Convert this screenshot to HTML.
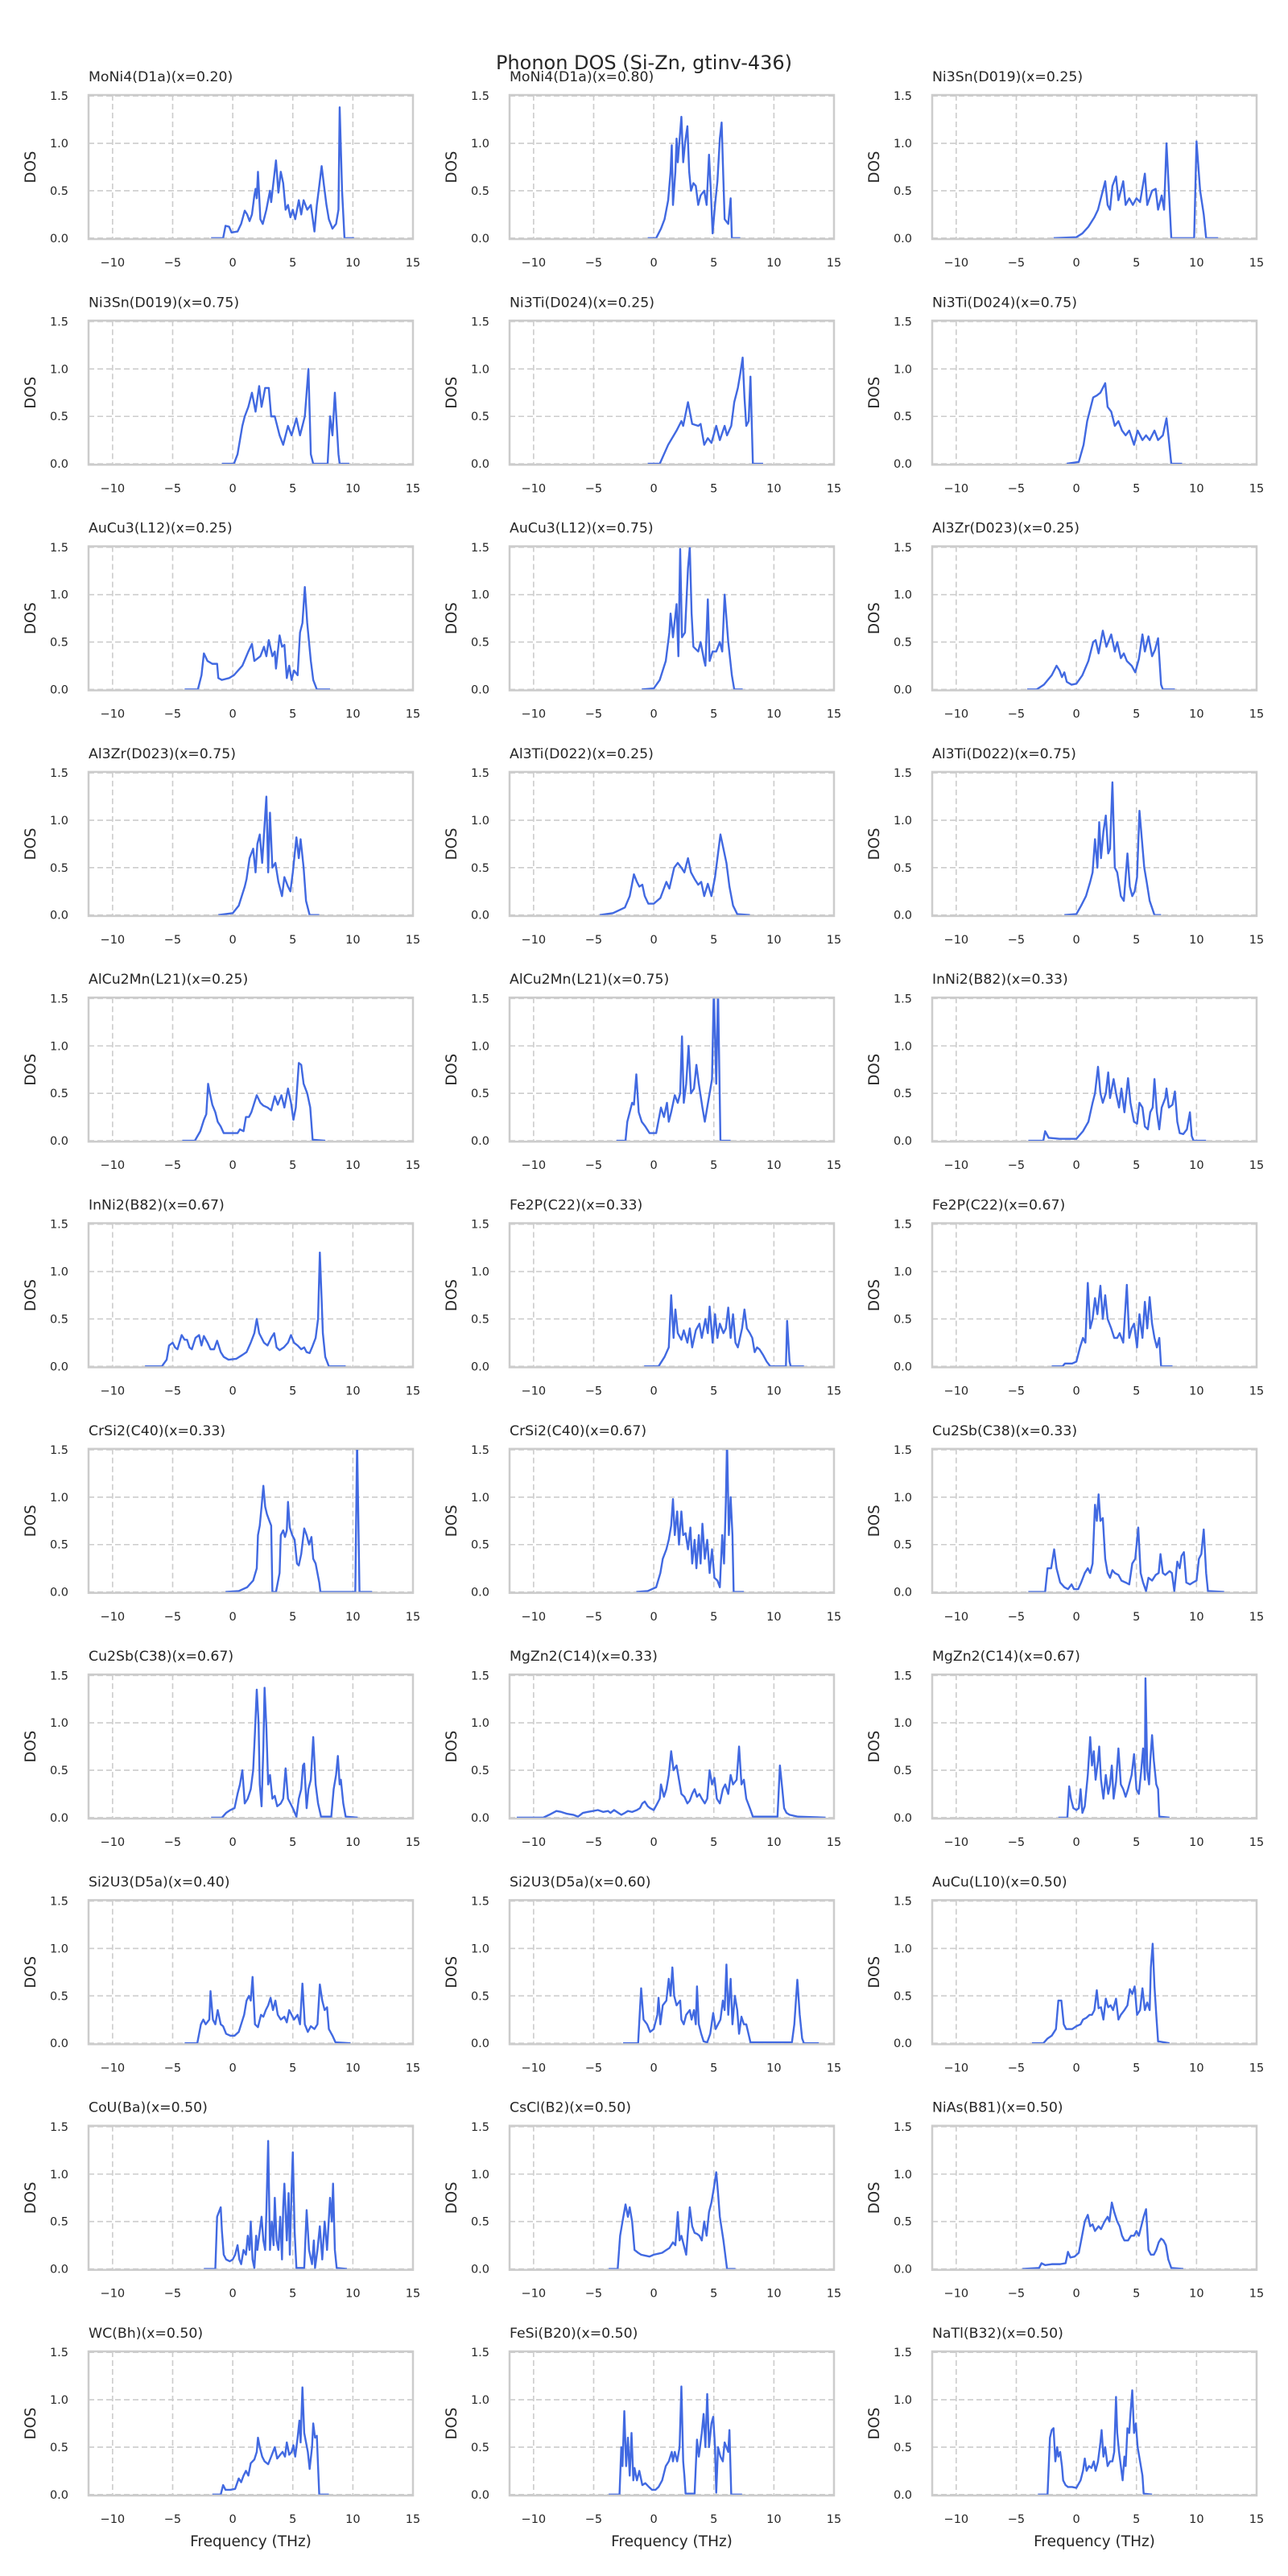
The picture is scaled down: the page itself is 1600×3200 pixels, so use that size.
<!DOCTYPE html>
<html>
<head>
<meta charset="utf-8">
<style>
  html,body{margin:0;padding:0;background:#fff;}
  svg{display:block;}
  text{font-family:"DejaVu Sans","Liberation Sans",sans-serif;fill:#262626;}
</style>
</head>
<body>
<svg id="fig" xmlns="http://www.w3.org/2000/svg" width="1600" height="3200" viewBox="0 0 1600 3200">
  <rect x="0" y="0" width="1600" height="3200" fill="#ffffff"/>
  <text x="800" y="86" text-anchor="middle" font-size="24">Phonon DOS (Si-Zn, gtinv-436)</text>
</svg>
<script>
const titles = ["MoNi4(D1a)(x=0.20)","MoNi4(D1a)(x=0.80)","Ni3Sn(D019)(x=0.25)","Ni3Sn(D019)(x=0.75)","Ni3Ti(D024)(x=0.25)","Ni3Ti(D024)(x=0.75)","AuCu3(L12)(x=0.25)","AuCu3(L12)(x=0.75)","Al3Zr(D023)(x=0.25)","Al3Zr(D023)(x=0.75)","Al3Ti(D022)(x=0.25)","Al3Ti(D022)(x=0.75)","AlCu2Mn(L21)(x=0.25)","AlCu2Mn(L21)(x=0.75)","InNi2(B82)(x=0.33)","InNi2(B82)(x=0.67)","Fe2P(C22)(x=0.33)","Fe2P(C22)(x=0.67)","CrSi2(C40)(x=0.33)","CrSi2(C40)(x=0.67)","Cu2Sb(C38)(x=0.33)","Cu2Sb(C38)(x=0.67)","MgZn2(C14)(x=0.33)","MgZn2(C14)(x=0.67)","Si2U3(D5a)(x=0.40)","Si2U3(D5a)(x=0.60)","AuCu(L10)(x=0.50)","CoU(Ba)(x=0.50)","CsCl(B2)(x=0.50)","NiAs(B81)(x=0.50)","WC(Bh)(x=0.50)","FeSi(B20)(x=0.50)","NaTl(B32)(x=0.50)"];
const xTicks = [-10,-5,0,5,10,15];
const yTicks = [0.0,0.5,1.0,1.5];
const xTickLabels = ["\u221210","\u22125","0","5","10","15"];
const yTickLabels = ["0.0","0.5","1.0","1.5"];
const xLim = [-12,15];
const yLim = [-0.01,1.51];

const s0=[[-1.8,0],[-0.8,0],[-0.6,0.13],[-0.3,0.12],[-0.1,0.06],[0.4,0.07],[0.7,0.15],[1.0,0.29],[1.2,0.25],[1.4,0.18],[1.6,0.25],[1.8,0.45],[1.9,0.52],[2.0,0.42],[2.1,0.7],[2.3,0.2],[2.5,0.15],[2.8,0.3],[3.1,0.5],[3.2,0.38],[3.4,0.6],[3.6,0.82],[3.8,0.48],[4.0,0.7],[4.2,0.58],[4.4,0.3],[4.6,0.35],[4.8,0.22],[5.0,0.3],[5.2,0.2],[5.5,0.4],[5.7,0.25],[5.9,0.4],[6.2,0.3],[6.5,0.35],[6.8,0.07],[7.0,0.35],[7.2,0.55],[7.4,0.76],[7.6,0.55],[7.8,0.35],[8.0,0.2],[8.3,0.1],[8.6,0.15],[8.8,0.3],[8.9,1.38],[9.1,0.5],[9.3,0],[10.1,0]];
const s1=[[-0.5,0],[0.2,0],[0.6,0.1],[0.9,0.2],[1.2,0.4],[1.4,0.7],[1.5,0.98],[1.6,0.35],[1.8,0.7],[1.9,1.05],[2.0,0.8],[2.3,1.28],[2.45,0.8],[2.6,1.0],[2.8,1.18],[2.95,0.7],[3.1,0.5],[3.3,0.58],[3.5,0.55],[3.7,0.35],[3.9,0.45],[4.2,0.5],[4.4,0.35],[4.6,0.88],[4.75,0.5],[4.9,0.05],[5.1,0.35],[5.3,0.6],[5.5,1.05],[5.65,1.22],[5.8,0.6],[5.9,0.2],[6.2,0.15],[6.4,0.42],[6.5,0],[7.2,0]];
const s2=[[-1.9,0],[0,0.01],[0.5,0.05],[1.0,0.12],[1.5,0.22],[1.8,0.3],[2.0,0.4],[2.4,0.6],[2.6,0.35],[2.8,0.3],[3.0,0.55],[3.3,0.65],[3.5,0.4],[3.9,0.6],[4.1,0.35],[4.4,0.42],[4.7,0.35],[5.0,0.42],[5.3,0.38],[5.7,0.68],[5.9,0.35],[6.3,0.5],[6.6,0.52],[6.8,0.3],[7.1,0.45],[7.3,0.3],[7.5,1.0],[7.9,0],[9.8,0],[10.0,1.02],[10.3,0.5],[10.6,0.25],[10.8,0],[11.8,0]];
const s3=[[-0.9,0],[0.1,0],[0.4,0.1],[0.8,0.4],[1.0,0.5],[1.3,0.6],[1.6,0.75],[1.9,0.55],[2.2,0.82],[2.4,0.6],[2.7,0.8],[3.0,0.8],[3.2,0.5],[3.5,0.5],[3.9,0.3],[4.2,0.2],[4.6,0.4],[4.9,0.3],[5.3,0.48],[5.6,0.3],[6.0,0.5],[6.3,1.0],[6.5,0.1],[6.7,0],[7.9,0],[8.1,0.5],[8.3,0.3],[8.5,0.75],[8.8,0.1],[8.9,0],[9.7,0]];
const s4=[[-0.5,0],[0.5,0],[1.2,0.2],[1.9,0.35],[2.3,0.45],[2.45,0.4],[2.85,0.65],[3.2,0.42],[3.7,0.4],[3.9,0.42],[4.2,0.2],[4.5,0.27],[4.8,0.22],[5.2,0.4],[5.5,0.25],[5.9,0.4],[6.1,0.3],[6.45,0.4],[6.7,0.65],[7.0,0.8],[7.2,0.95],[7.4,1.12],[7.55,0.7],[7.7,0.4],[7.9,0.45],[8.05,0.92],[8.25,0],[9.1,0]];
const s5=[[-0.8,0],[0.2,0.02],[0.6,0.2],[0.9,0.45],[1.2,0.6],[1.4,0.7],[1.7,0.72],[2.0,0.75],[2.4,0.85],[2.6,0.6],[2.9,0.55],[3.2,0.4],[3.5,0.45],[3.8,0.35],[4.1,0.3],[4.4,0.35],[4.8,0.2],[5.1,0.35],[5.5,0.25],[5.8,0.3],[6.1,0.25],[6.5,0.35],[6.8,0.25],[7.2,0.3],[7.5,0.48],[7.7,0.25],[7.9,0],[8.8,0]];
const s6=[[-4.0,0],[-2.9,0],[-2.6,0.15],[-2.4,0.38],[-2.1,0.3],[-1.7,0.27],[-1.3,0.27],[-1.2,0.12],[-0.9,0.1],[-0.3,0.12],[0.1,0.15],[0.8,0.25],[1.3,0.4],[1.6,0.48],[1.8,0.3],[2.3,0.35],[2.6,0.45],[2.8,0.35],[3.0,0.52],[3.3,0.35],[3.5,0.4],[3.6,0.22],[3.9,0.57],[4.1,0.45],[4.3,0.47],[4.5,0.12],[4.7,0.25],[4.9,0.1],[5.1,0.2],[5.4,0.15],[5.6,0.6],[5.8,0.7],[6.0,1.08],[6.2,0.7],[6.5,0.3],[6.7,0.1],[7.0,0],[8.1,0]];
const s7=[[-1.0,0],[0,0.01],[0.5,0.1],[1.0,0.3],[1.3,0.6],[1.4,0.8],[1.6,0.55],[1.9,0.9],[2.05,0.35],[2.2,1.48],[2.35,0.55],[2.6,0.6],[2.85,1.28],[3.0,1.5],[3.15,0.8],[3.3,0.45],[3.7,0.4],[3.9,0.5],[4.2,0.3],[4.3,0.25],[4.5,0.95],[4.65,0.3],[4.9,0.4],[5.2,0.4],[5.5,0.5],[5.7,0.4],[5.9,1.0],[6.2,0.5],[6.5,0.15],[6.7,0],[7.4,0]];
const s8=[[-4.1,0],[-3.3,0],[-2.7,0.05],[-2.05,0.15],[-1.65,0.25],[-1.4,0.2],[-1.2,0.13],[-1.0,0.18],[-0.8,0.08],[-0.4,0.05],[0,0.06],[0.5,0.15],[1.0,0.3],[1.4,0.5],[1.6,0.52],[1.85,0.38],[2.2,0.62],[2.5,0.45],[2.9,0.58],[3.2,0.4],[3.4,0.5],[3.7,0.33],[3.95,0.38],[4.2,0.3],[4.6,0.25],[4.9,0.18],[5.2,0.32],[5.5,0.58],[5.7,0.4],[6.0,0.56],[6.3,0.35],[6.55,0.42],[6.8,0.54],[7.05,0.05],[7.2,0],[8.2,0]];
const s9=[[-1.2,0],[0,0.02],[0.5,0.1],[1.0,0.3],[1.15,0.38],[1.4,0.6],[1.7,0.7],[1.9,0.45],[2.05,0.75],[2.25,0.85],[2.45,0.55],[2.65,0.95],[2.8,1.25],[2.95,0.45],[3.1,1.08],[3.3,0.5],[3.55,0.55],[3.8,0.35],[4.1,0.2],[4.3,0.4],[4.6,0.3],[4.8,0.25],[5.0,0.45],[5.3,0.82],[5.5,0.6],[5.65,0.8],[5.9,0.5],[6.1,0.15],[6.4,0],[7.2,0]];
const s10=[[-4.5,0],[-3.4,0.02],[-2.4,0.08],[-2.0,0.2],[-1.65,0.43],[-1.4,0.35],[-1.2,0.3],[-0.95,0.32],[-0.75,0.2],[-0.45,0.12],[0,0.12],[0.55,0.18],[1.05,0.35],[1.3,0.28],[1.7,0.5],[2.0,0.55],[2.3,0.5],[2.55,0.45],[2.85,0.6],[3.1,0.45],[3.4,0.38],[3.7,0.32],[3.95,0.35],[4.2,0.2],[4.5,0.33],[4.8,0.2],[5.1,0.4],[5.3,0.6],[5.55,0.85],[5.8,0.7],[6.05,0.55],[6.3,0.3],[6.6,0.1],[6.95,0.01],[8.0,0]];
const s11=[[-1.0,0],[0,0.01],[0.4,0.1],[0.8,0.2],[1.15,0.35],[1.35,0.45],[1.55,0.8],[1.75,0.5],[1.9,0.98],[2.05,0.6],[2.25,0.88],[2.45,1.05],[2.65,0.65],[2.8,0.7],[3.0,1.4],[3.2,0.5],[3.4,0.45],[3.7,0.2],[3.95,0.15],[4.25,0.65],[4.45,0.3],[4.65,0.2],[4.85,0.25],[5.05,0.4],[5.25,1.1],[5.45,0.8],[5.65,0.5],[5.85,0.35],[6.1,0.15],[6.5,0],[7.05,0]];
const s12=[[-4.2,0],[-3.15,0],[-2.7,0.1],[-2.4,0.22],[-2.2,0.28],[-2.05,0.6],[-1.9,0.5],[-1.7,0.38],[-1.45,0.3],[-1.25,0.2],[-1.0,0.15],[-0.75,0.08],[-0.2,0.08],[0.4,0.08],[0.6,0.12],[0.9,0.1],[1.1,0.25],[1.35,0.25],[1.55,0.3],[1.75,0.38],[2.0,0.48],[2.3,0.4],[2.55,0.37],[2.9,0.35],[3.2,0.32],[3.5,0.47],[3.75,0.38],[4.05,0.48],[4.3,0.35],[4.6,0.55],[4.85,0.4],[5.05,0.22],[5.25,0.35],[5.5,0.82],[5.7,0.8],[5.9,0.6],[6.2,0.5],[6.45,0.35],[6.65,0.01],[7.7,0]];
const s13=[[-3.1,0],[-2.35,0],[-2.2,0.2],[-2.0,0.3],[-1.8,0.4],[-1.65,0.38],[-1.45,0.7],[-1.25,0.3],[-1.0,0.2],[-0.7,0.15],[-0.35,0.08],[0.2,0.08],[0.6,0.35],[0.85,0.25],[1.1,0.4],[1.25,0.2],[1.45,0.3],[1.75,0.48],[2.0,0.4],[2.2,0.5],[2.35,1.1],[2.5,0.4],[2.7,0.6],[2.9,1.0],[3.1,0.5],[3.35,0.55],[3.55,0.8],[3.75,0.6],[4.05,0.35],[4.25,0.2],[4.45,0.35],[4.65,0.5],[4.85,0.65],[5.0,1.6],[5.2,0.6],[5.35,1.6],[5.55,0],[6.4,0]];
const s14=[[-4.0,0],[-2.75,0],[-2.6,0.1],[-2.3,0.03],[-1.4,0.02],[0,0.02],[0.55,0.1],[1.0,0.2],[1.35,0.4],[1.55,0.5],[1.8,0.78],[2.0,0.5],[2.2,0.4],[2.45,0.5],[2.65,0.72],[2.8,0.45],[3.1,0.65],[3.3,0.5],[3.55,0.35],[3.75,0.55],[4.0,0.3],[4.3,0.66],[4.5,0.4],[4.8,0.2],[5.05,0.18],[5.25,0.4],[5.5,0.35],[5.7,0.15],[5.95,0.12],[6.15,0.3],[6.35,0.35],[6.5,0.65],[6.7,0.3],[6.9,0.12],[7.1,0.35],[7.4,0.45],[7.5,0.55],[7.7,0.35],[8.0,0.38],[8.2,0.52],[8.4,0.2],[8.6,0.08],[8.9,0.07],[9.2,0.12],[9.45,0.3],[9.6,0.05],[9.75,0],[10.8,0]];
const s15=[[-7.3,0],[-5.9,0],[-5.5,0.07],[-5.3,0.22],[-5.0,0.25],[-4.8,0.2],[-4.6,0.18],[-4.25,0.33],[-4.0,0.28],[-3.8,0.28],[-3.6,0.2],[-3.4,0.18],[-3.1,0.3],[-2.8,0.33],[-2.6,0.22],[-2.4,0.32],[-2.1,0.25],[-1.85,0.18],[-1.55,0.18],[-1.3,0.27],[-1.0,0.15],[-0.75,0.1],[-0.35,0.07],[0.3,0.08],[0.8,0.12],[1.15,0.15],[1.5,0.25],[1.8,0.35],[2.0,0.5],[2.2,0.35],[2.4,0.3],[2.6,0.25],[2.9,0.22],[3.2,0.3],[3.45,0.35],[3.65,0.2],[3.9,0.17],[4.25,0.2],[4.6,0.25],[4.85,0.33],[5.1,0.25],[5.4,0.22],[5.7,0.18],[5.95,0.2],[6.15,0.15],[6.4,0.14],[6.6,0.2],[6.9,0.3],[7.1,0.5],[7.25,1.2],[7.4,0.7],[7.5,0.35],[7.7,0.1],[8.0,0],[9.4,0]];
const s16=[[-0.8,0],[0.4,0],[0.9,0.1],[1.25,0.2],[1.45,0.75],[1.65,0.3],[1.8,0.6],[2.0,0.35],[2.3,0.28],[2.5,0.38],[2.8,0.25],[3.0,0.4],[3.2,0.2],[3.5,0.38],[3.8,0.45],[4.0,0.3],[4.3,0.5],[4.5,0.35],[4.65,0.63],[4.9,0.25],[5.1,0.55],[5.3,0.3],[5.5,0.45],[5.8,0.35],[6.0,0.4],[6.2,0.62],[6.4,0.3],[6.6,0.55],[6.8,0.25],[7.0,0.2],[7.35,0.4],[7.55,0.6],[7.75,0.4],[8.0,0.35],[8.2,0.3],[8.4,0.15],[8.6,0.2],[8.8,0.18],[9.1,0.12],[9.4,0.05],[9.7,0],[11.0,0],[11.1,0.48],[11.3,0.05],[11.4,0],[12.5,0]];
const s17=[[-2.05,0],[-1.15,0],[-0.95,0.03],[-0.35,0.03],[0,0.05],[0.3,0.2],[0.55,0.3],[0.75,0.25],[0.95,0.88],[1.15,0.4],[1.35,0.5],[1.55,0.72],[1.75,0.55],[2.0,0.85],[2.2,0.5],[2.4,0.75],[2.6,0.5],[2.9,0.4],[3.15,0.3],[3.4,0.3],[3.6,0.35],[3.9,0.25],[4.2,0.86],[4.4,0.3],[4.6,0.4],[4.8,0.45],[5.05,0.2],[5.25,0.55],[5.5,0.3],[5.7,0.68],[5.9,0.4],[6.1,0.73],[6.3,0.45],[6.5,0.3],[6.7,0.2],[6.9,0.3],[7.05,0],[8.0,0]];
const s18=[[-0.6,0],[0.5,0.01],[1.2,0.05],[1.7,0.12],[2.0,0.25],[2.1,0.6],[2.25,0.7],[2.4,0.9],[2.55,1.12],[2.7,0.9],[2.85,0.82],[3.05,0.75],[3.2,0.7],[3.3,0],[3.6,0],[3.9,0.2],[4.0,0.6],[4.2,0.65],[4.35,0.58],[4.5,0.65],[4.6,0.95],[4.75,0.68],[4.95,0.6],[5.15,0.55],[5.35,0.3],[5.5,0.28],[5.7,0.4],[5.95,0.67],[6.15,0.6],[6.35,0.5],[6.55,0.58],[6.7,0.35],[6.9,0.3],[7.2,0.1],[7.3,0],[10.2,0],[10.35,1.6],[10.55,0],[11.6,0]];
const s19=[[-1.45,0],[-0.5,0.01],[0.2,0.05],[0.55,0.2],[0.75,0.35],[1.05,0.45],[1.25,0.55],[1.45,0.7],[1.6,0.98],[1.75,0.6],[1.95,0.85],[2.1,0.5],[2.3,0.85],[2.45,0.6],[2.65,0.62],[2.85,0.45],[3.05,0.68],[3.2,0.3],[3.4,0.55],[3.55,0.25],[3.75,0.6],[3.9,0.3],[4.05,0.72],[4.25,0.35],[4.45,0.55],[4.65,0.2],[4.85,0.45],[5.05,0.15],[5.3,0.12],[5.5,0.05],[5.7,0.6],[5.85,0.3],[6.0,0.95],[6.1,1.6],[6.25,0.6],[6.4,1.0],[6.55,0.6],[6.65,0],[7.5,0]];
const s20=[[-4.0,0],[-2.6,0],[-2.4,0.25],[-2.1,0.25],[-1.85,0.45],[-1.65,0.25],[-1.35,0.1],[-1.0,0.05],[-0.7,0.03],[-0.4,0.08],[-0.2,0.03],[0.15,0.03],[0.4,0.1],[0.7,0.2],[0.95,0.25],[1.15,0.2],[1.35,0.3],[1.55,0.92],[1.7,0.75],[1.85,1.03],[2.0,0.75],[2.2,0.78],[2.4,0.35],[2.6,0.2],[2.8,0.15],[3.0,0.23],[3.2,0.2],[3.5,0.18],[3.75,0.12],[4.1,0.1],[4.4,0.08],[4.65,0.3],[4.9,0.35],[5.15,0.68],[5.35,0.2],[5.55,0.1],[5.8,0.01],[6.0,0.15],[6.3,0.12],[6.6,0.18],[6.85,0.2],[7.0,0.4],[7.2,0.2],[7.4,0.18],[7.75,0.22],[7.95,0.2],[8.15,0.01],[8.4,0.32],[8.6,0.25],[8.75,0.38],[8.95,0.42],[9.15,0.1],[9.45,0.08],[9.7,0.1],[10.0,0.12],[10.2,0.35],[10.4,0.4],[10.6,0.66],[10.8,0.2],[10.95,0.01],[12.3,0]];
const s21=[[-1.8,0],[-0.9,0],[-0.55,0.05],[-0.2,0.08],[0.15,0.1],[0.4,0.25],[0.6,0.35],[0.8,0.5],[1.0,0.15],[1.25,0.2],[1.5,0.3],[1.7,0.5],[1.85,0.9],[2.0,1.35],[2.15,1.0],[2.25,0.35],[2.4,0.12],[2.55,0.75],[2.65,1.37],[2.8,0.95],[2.95,0.35],[3.1,0.45],[3.3,0.2],[3.5,0.23],[3.7,0.12],[4.0,0.15],[4.2,0.2],[4.4,0.52],[4.6,0.2],[4.8,0.15],[5.0,0.1],[5.3,0.01],[5.5,0.2],[5.7,0.3],[5.85,0.55],[5.95,0.57],[6.15,0.1],[6.3,0.3],[6.5,0.4],[6.7,0.85],[6.9,0.35],[7.1,0.15],[7.35,0.01],[8.2,0.01],[8.4,0.3],[8.6,0.45],[8.75,0.65],[8.9,0.35],[9.0,0.4],[9.2,0.15],[9.4,0.01],[10.4,0]];
const s22=[[-11.4,0],[-9.2,0],[-8.7,0.03],[-8.1,0.07],[-7.7,0.06],[-7.2,0.04],[-6.7,0.03],[-6.3,0.01],[-5.9,0.05],[-5.5,0.06],[-5.05,0.07],[-4.65,0.08],[-4.2,0.06],[-3.8,0.07],[-3.6,0.05],[-3.3,0.08],[-2.95,0.05],[-2.7,0.03],[-2.4,0.05],[-2.15,0.07],[-1.8,0.06],[-1.4,0.08],[-1.15,0.1],[-0.95,0.15],[-0.75,0.17],[-0.5,0.12],[-0.3,0.1],[0,0.08],[0.3,0.15],[0.5,0.2],[0.6,0.35],[0.85,0.22],[1.05,0.3],[1.25,0.45],[1.45,0.7],[1.65,0.5],[1.9,0.55],[2.1,0.4],[2.3,0.25],[2.55,0.22],[2.8,0.15],[3.0,0.18],[3.2,0.25],[3.4,0.3],[3.6,0.22],[3.8,0.25],[4.0,0.2],[4.25,0.15],[4.45,0.2],[4.65,0.5],[4.85,0.35],[5.05,0.42],[5.25,0.2],[5.5,0.15],[5.75,0.3],[5.95,0.35],[6.2,0.25],[6.4,0.45],[6.6,0.35],[6.9,0.4],[7.1,0.75],[7.3,0.35],[7.5,0.4],[7.7,0.2],[8.0,0.1],[8.25,0.01],[10.3,0.01],[10.5,0.55],[10.7,0.3],[10.85,0.1],[11.05,0.05],[11.3,0.03],[12.0,0.01],[14.3,0]];
const s23=[[-1.5,0],[-0.75,0],[-0.6,0.33],[-0.45,0.2],[-0.25,0.1],[0,0.08],[0.2,0.1],[0.35,0.3],[0.5,0.05],[0.7,0.12],[0.95,0.45],[1.15,0.85],[1.3,0.55],[1.45,0.7],[1.6,0.4],[1.8,0.6],[1.9,0.75],[2.05,0.4],[2.25,0.2],[2.45,0.45],[2.65,0.25],[2.8,0.35],[2.95,0.55],[3.1,0.2],[3.3,0.38],[3.5,0.73],[3.7,0.35],[3.9,0.3],[4.1,0.22],[4.3,0.3],[4.6,0.45],[4.8,0.67],[5.0,0.3],[5.2,0.25],[5.4,0.5],[5.55,0.73],[5.7,0.4],[5.75,1.47],[5.9,0.5],[6.05,0.35],[6.15,0.6],[6.3,0.87],[6.45,0.6],[6.65,0.35],[6.8,0.3],[6.9,0.01],[7.75,0]];
const s24=[[-4.0,0],[-2.95,0],[-2.65,0.2],[-2.45,0.25],[-2.25,0.2],[-1.95,0.25],[-1.85,0.55],[-1.65,0.25],[-1.45,0.2],[-1.25,0.35],[-1.0,0.2],[-0.8,0.18],[-0.55,0.1],[-0.2,0.08],[0.15,0.08],[0.5,0.12],[0.75,0.22],[0.95,0.3],[1.15,0.45],[1.35,0.5],[1.5,0.45],[1.65,0.7],[1.85,0.2],[2.1,0.17],[2.35,0.3],[2.55,0.28],[2.75,0.35],[2.95,0.4],[3.15,0.48],[3.35,0.35],[3.55,0.45],[3.75,0.3],[4.0,0.25],[4.3,0.28],[4.5,0.22],[4.7,0.35],[4.9,0.3],[5.1,0.25],[5.4,0.3],[5.6,0.2],[5.8,0.63],[6.0,0.2],[6.25,0.12],[6.5,0.18],[6.8,0.15],[7.05,0.2],[7.25,0.62],[7.45,0.45],[7.65,0.35],[7.85,0.38],[8.0,0.15],[8.3,0.08],[8.55,0.01],[9.8,0]];
const s25=[[-2.55,0],[-1.3,0],[-1.05,0.58],[-0.85,0.25],[-0.55,0.2],[-0.3,0.12],[0,0.15],[0.3,0.3],[0.4,0.48],[0.55,0.2],[0.75,0.4],[1.05,0.45],[1.25,0.68],[1.4,0.5],[1.55,0.8],[1.7,0.5],[1.9,0.4],[2.2,0.45],[2.3,0.25],[2.5,0.2],[2.7,0.3],[3.0,0.35],[3.15,0.25],[3.35,0.35],[3.5,0.2],[3.6,0.6],[3.75,0.2],[3.95,0.1],[4.15,0.02],[4.45,0.01],[4.7,0.1],[4.95,0.32],[5.15,0.15],[5.35,0.2],[5.55,0.25],[5.75,0.45],[5.9,0.35],[6.05,0.83],[6.2,0.3],[6.4,0.68],[6.55,0.2],[6.75,0.5],[6.95,0.35],[7.1,0.1],[7.3,0.28],[7.5,0.2],[7.7,0.2],[8.05,0.01],[11.5,0.01],[11.7,0.2],[11.95,0.67],[12.15,0.3],[12.35,0.05],[12.5,0],[13.75,0]];
const s26=[[-3.7,0],[-2.75,0],[-2.4,0.05],[-2.05,0.08],[-1.7,0.15],[-1.5,0.45],[-1.25,0.45],[-1.05,0.2],[-0.85,0.15],[-0.35,0.15],[0,0.18],[0.35,0.2],[0.55,0.25],[0.85,0.27],[1.1,0.3],[1.3,0.3],[1.5,0.35],[1.7,0.56],[1.85,0.37],[2.05,0.38],[2.25,0.25],[2.45,0.47],[2.65,0.38],[2.85,0.4],[3.05,0.35],[3.3,0.47],[3.5,0.25],[3.7,0.3],[4.0,0.35],[4.25,0.4],[4.45,0.57],[4.65,0.52],[4.85,0.6],[5.05,0.3],[5.3,0.35],[5.5,0.58],[5.7,0.35],[5.9,0.43],[6.1,0.35],[6.2,0.8],[6.35,1.05],[6.5,0.6],[6.65,0.3],[6.8,0.02],[7.75,0]];
const s27=[[-2.4,0],[-1.45,0],[-1.3,0.55],[-1.15,0.6],[-1.0,0.65],[-0.9,0.4],[-0.75,0.15],[-0.55,0.1],[-0.25,0.08],[0,0.1],[0.2,0.15],[0.4,0.25],[0.55,0.1],[0.7,0.05],[0.9,0.2],[1.1,0.15],[1.25,0.35],[1.4,0.2],[1.5,0.5],[1.65,0.1],[1.8,0.01],[1.95,0.35],[2.05,0.2],[2.25,0.4],[2.4,0.55],[2.55,0.3],[2.7,0.2],[2.8,0.6],[2.95,1.35],[3.1,0.2],[3.25,0.5],[3.4,0.25],[3.5,0.75],[3.65,0.3],[3.8,0.2],[3.95,0.55],[4.1,0.1],[4.2,0.65],[4.3,0.9],[4.5,0.3],[4.65,0.8],[4.75,0.15],[4.9,0.85],[5.0,1.23],[5.15,0.4],[5.3,0.01],[5.95,0.01],[6.15,0.62],[6.35,0.2],[6.6,0.05],[6.75,0.3],[6.85,0.01],[7.05,0.2],[7.25,0.45],[7.45,0.1],[7.65,0.5],[7.85,0.2],[8.1,0.75],[8.25,0.5],[8.35,0.9],[8.5,0.2],[8.65,0.01],[9.5,0]];
const s28=[[-3.75,0],[-3.0,0],[-2.8,0.35],[-2.6,0.5],[-2.35,0.68],[-2.15,0.55],[-2.0,0.65],[-1.8,0.5],[-1.6,0.2],[-1.3,0.17],[-1.05,0.15],[-0.7,0.14],[-0.35,0.13],[0,0.15],[0.35,0.16],[0.7,0.17],[1.05,0.2],[1.3,0.22],[1.6,0.28],[1.8,0.25],[2.0,0.6],[2.15,0.3],[2.3,0.35],[2.5,0.25],[2.7,0.15],[3.0,0.65],[3.2,0.45],[3.4,0.38],[3.6,0.37],[3.8,0.35],[4.0,0.3],[4.2,0.5],[4.4,0.35],[4.6,0.6],[4.8,0.7],[5.0,0.85],[5.2,1.02],[5.35,0.8],[5.5,0.55],[5.8,0.3],[6.0,0.1],[6.1,0],[6.8,0]];
const s29=[[-4.5,0],[-3.1,0.01],[-2.9,0.06],[-2.6,0.04],[-2.05,0.05],[-1.35,0.05],[-0.9,0.06],[-0.7,0.18],[-0.5,0.12],[-0.15,0.13],[0.2,0.17],[0.4,0.3],[0.7,0.5],[0.95,0.57],[1.15,0.45],[1.35,0.47],[1.55,0.4],[1.85,0.45],[2.05,0.42],[2.35,0.5],[2.6,0.55],[2.75,0.5],[2.95,0.7],[3.15,0.6],[3.4,0.5],[3.6,0.45],[3.8,0.35],[4.0,0.3],[4.3,0.3],[4.55,0.35],[4.8,0.35],[5.0,0.4],[5.2,0.35],[5.4,0.45],[5.6,0.55],[5.8,0.63],[6.0,0.2],[6.2,0.15],[6.45,0.15],[6.65,0.2],[6.85,0.28],[7.05,0.32],[7.25,0.3],[7.45,0.25],[7.65,0.1],[7.9,0.01],[8.9,0]];
const s30=[[-1.7,0],[-1.0,0],[-0.8,0.1],[-0.6,0.05],[-0.2,0.05],[0.2,0.06],[0.5,0.17],[0.7,0.13],[0.9,0.2],[1.1,0.25],[1.3,0.2],[1.5,0.33],[1.8,0.37],[2.0,0.45],[2.1,0.6],[2.25,0.5],[2.45,0.4],[2.65,0.35],[2.95,0.32],[3.2,0.4],[3.5,0.5],[3.7,0.38],[3.95,0.42],[4.15,0.45],[4.35,0.4],[4.5,0.55],[4.7,0.42],[4.9,0.45],[5.05,0.52],[5.2,0.4],[5.4,0.6],[5.55,0.78],[5.65,0.55],[5.8,1.13],[5.95,0.65],[6.1,0.55],[6.25,0.45],[6.4,0.27],[6.6,0.5],[6.7,0.75],[6.85,0.6],[7.0,0.62],[7.1,0.3],[7.2,0],[8.0,0]];
const s31=[[-3.75,0],[-2.85,0],[-2.7,0.5],[-2.6,0.3],[-2.45,0.88],[-2.3,0.3],[-2.15,0.6],[-2.0,0.2],[-1.85,0.65],[-1.7,0.15],[-1.6,0.28],[-1.4,0.15],[-1.2,0.25],[-0.95,0.1],[-0.7,0.12],[-0.4,0.08],[-0.15,0.05],[0.15,0.05],[0.4,0.08],[0.7,0.15],[1.0,0.3],[1.25,0.35],[1.5,0.45],[1.6,0.35],[1.75,0.45],[1.95,0.35],[2.15,0.5],[2.3,1.14],[2.45,0.35],[2.55,0.2],[2.65,0.01],[3.4,0.01],[3.6,0.58],[3.75,0.4],[3.9,0.55],[4.0,0.65],[4.15,0.85],[4.3,0.5],[4.45,1.06],[4.6,0.5],[4.8,0.75],[4.95,0.82],[5.1,0.5],[5.2,0.02],[5.35,0.5],[5.55,0.4],[5.75,0.35],[5.9,0.55],[6.05,0.5],[6.2,0.45],[6.3,0.68],[6.45,0],[7.35,0]];
const s32=[[-3.2,0],[-2.4,0],[-2.2,0.6],[-2.05,0.68],[-1.9,0.7],[-1.75,0.35],[-1.6,0.5],[-1.5,0.4],[-1.35,0.45],[-1.2,0.3],[-1.1,0.15],[-0.9,0.1],[-0.7,0.08],[-0.35,0.08],[0,0.07],[0.35,0.15],[0.55,0.25],[0.7,0.38],[0.85,0.25],[1.05,0.3],[1.25,0.28],[1.45,0.35],[1.6,0.25],[1.8,0.35],[2.0,0.55],[2.1,0.68],[2.25,0.4],[2.4,0.5],[2.6,0.3],[2.8,0.35],[3.0,0.35],[3.15,0.45],[3.3,1.03],[3.4,0.65],[3.55,0.45],[3.7,0.3],[3.85,0.15],[4.0,0.4],[4.1,0.3],[4.25,0.7],[4.4,0.65],[4.5,0.85],[4.65,1.1],[4.8,0.65],[4.95,0.75],[5.1,0.5],[5.3,0.35],[5.5,0.2],[5.6,0.01],[6.3,0]];
const series = [s0,s1,s2,s3,s4,s5,s6,s7,s8,s9,s10,s11,s12,s13,s14,s15,s16,s17,s18,s19,s20,s21,s22,s23,s24,s25,s26,s27,s28,s29,s30,s31,s32];

const NS = "http://www.w3.org/2000/svg";
const svg = document.getElementById("fig");
const PW = 403, PH = 179, colX = [110, 633, 1158], top0 = 118, rowStep = 280.3;

function mk(tag, attrs, parent) {
  const e = document.createElementNS(NS, tag);
  for (const k in attrs) e.setAttribute(k, attrs[k]);
  (parent || svg).appendChild(e);
  return e;
}

titles.forEach((title, i) => {
  const r = Math.floor(i / 3), c = i % 3;
  const L = colX[c], T = top0 + r * rowStep;
  const xs = f => L + (f - xLim[0]) / (xLim[1] - xLim[0]) * PW;
  const ys = d => T + PH - (d - yLim[0]) / (yLim[1] - yLim[0]) * PH;

  const g = mk("g", {});
  
  

  const clipId = "clip" + i;
  const cp = mk("clipPath", {id: clipId}, g);
  mk("rect", {x: L, y: T, width: PW, height: PH}, cp);

  // grid
  xTicks.forEach((t, k) => {
    const gl = mk("line", {x1: xs(t), x2: xs(t), y1: T, y2: T + PH, stroke: "#cccccc", "stroke-width": 1.6, "stroke-dasharray": "7,4"}, g);
    
    
    const tl = mk("text", {x: xs(t), y: T + PH + 34, "text-anchor": "middle", "font-size": 14.5}, g);
    tl.textContent = xTickLabels[k];
    
    
  });
  yTicks.forEach((t, k) => {
    const gl = mk("line", {x1: L, x2: L + PW, y1: ys(t), y2: ys(t), stroke: "#cccccc", "stroke-width": 1.6, "stroke-dasharray": "7,4"}, g);
    
    
    const tl = mk("text", {x: L - 25, y: ys(t) + 5, "text-anchor": "end", "font-size": 14.5}, g);
    tl.textContent = yTickLabels[k];
    
    
  });

  // series line
  const pts = series[i].map(p => xs(p[0]).toFixed(2) + "," + ys(p[1]).toFixed(2)).join(" ");
  const line = mk("polyline", {points: pts, fill: "none", stroke: "#4169e1", "stroke-width": 2.4, "stroke-linejoin": "round", "clip-path": "url(#" + clipId + ")"}, g);
  
  

  // spines
  const sp = mk("rect", {x: L, y: T, width: PW, height: PH, fill: "none", stroke: "#cccccc", "stroke-width": 2.5}, g);
  
  

  // title
  const tt = mk("text", {x: L, y: T - 17, "font-size": 17.3}, g);
  tt.textContent = title;
  
  

  // y label
  const yl = mk("text", {x: 0, y: 0, "font-size": 18.2, "text-anchor": "middle", transform: "translate(" + (L - 66) + "," + (T + PH / 2) + ") rotate(-90)"}, g);
  yl.textContent = "DOS";
  
  

  if (r === 10) {
    const xl = mk("text", {x: L + PW / 2, y: T + PH + 63, "font-size": 18.5, "text-anchor": "middle"}, g);
    xl.textContent = "Frequency (THz)";
    
    
  }
});
</script>
</body>
</html>
